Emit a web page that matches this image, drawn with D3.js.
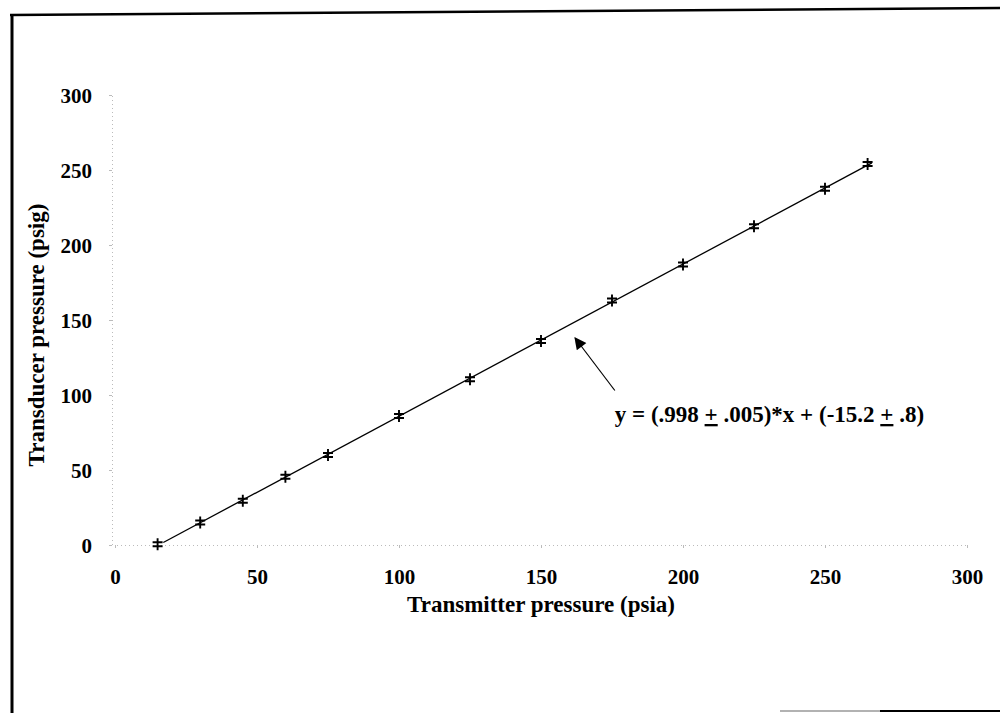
<!DOCTYPE html>
<html>
<head>
<meta charset="utf-8">
<script src="https://cdn.jsdelivr.net/npm/d3@7"></script>
<style>
  html, body { margin: 0; padding: 0; background: #fff; }
  svg { display: block; }
  text { font-family: "Liberation Serif", "Times New Roman", serif; font-weight: bold; fill: #000; }
</style>
</head>
<body>
<svg id="chart" width="1000" height="713"></svg>
<script>
// ---- data ----
const transmitter = [15, 30, 45, 60, 75, 100, 125, 150, 175, 200, 225, 250, 265];
const transducer  = [0.5, 15, 29.5, 45.5, 60, 86, 110.5, 136, 163, 187, 212.5, 237.5, 254];
const xTicks = [0, 50, 100, 150, 200, 250, 300];
const yTicks = [0, 50, 100, 150, 200, 250, 300];
const xTitle = "Transmitter pressure (psia)";
const yTitle = "Transducer pressure (psig)";
const fitRange = [17, 266.5];
const annotationParts = ["y = (.998 ", "+", " .005)*x + (-15.2 ", "+", " .8)"];
const arrowFrom = [176, 103];
const arrowTo = [162, 138];
const annotationAt = [176, 82];

const svg = d3.select("#chart");
const x = d3.scaleLinear().domain([0, 300]).range([115, 967]);
const y = d3.scaleLinear().domain([0, 300]).range([545, 95]);

// page border (scanned frame)
svg.append("line").attr("x1", 10).attr("y1", 15).attr("x2", 1000).attr("y2", 8)
  .attr("stroke", "#000").attr("stroke-width", 2.5);
svg.append("line").attr("x1", 12).attr("y1", 14).attr("x2", 12).attr("y2", 713)
  .attr("stroke", "#000").attr("stroke-width", 3);
svg.append("line").attr("x1", 780).attr("y1", 711).attr("x2", 880).attr("y2", 711)
  .attr("stroke", "#999").attr("stroke-width", 1.5);
svg.append("line").attr("x1", 880).attr("y1", 711).attr("x2", 1000).attr("y2", 711)
  .attr("stroke", "#000").attr("stroke-width", 2);

// axes
const xAxis = svg.append("g").attr("transform", `translate(0,${y(0)})`)
  .call(d3.axisBottom(x).tickValues(xTicks).tickSize(3).tickPadding(22).tickFormat(d3.format("d")));
const yAxis = svg.append("g").attr("transform", `translate(${x(0) - 3},0)`)
  .call(d3.axisLeft(y).tickValues(yTicks).tickSize(3).tickPadding(17).tickFormat(d3.format("d")));
[xAxis, yAxis].forEach(g => {
  g.select(".domain").attr("stroke", "#bbb").attr("stroke-dasharray", "1,3").attr("stroke-width", 1);
  g.selectAll(".tick line").attr("stroke", "#bbb");
  g.selectAll(".tick text").style("font-family", '"Liberation Serif", serif')
    .style("font-weight", "bold").style("font-size", "21px").attr("fill", "#000");
});
xAxis.selectAll(".tick text").attr("dy", "0.71em").attr("y", 24);
yAxis.selectAll(".tick text").attr("dy", "0.34em");

// axis titles
svg.append("text").attr("x", x(150)).attr("y", 612).attr("text-anchor", "middle")
  .style("font-size", "23px").text(xTitle);
svg.append("text").attr("transform", `translate(44,${(y(0) + y(300)) / 2 + 15}) rotate(-90)`)
  .attr("text-anchor", "middle").style("font-size", "23px").text(yTitle);

// fit line (least squares over the read points)
const n = transmitter.length;
const mx = d3.mean(transmitter), my = d3.mean(transducer);
let sxy = 0, sxx = 0;
for (let i = 0; i < n; i++) {
  sxy += (transmitter[i] - mx) * (transducer[i] - my);
  sxx += (transmitter[i] - mx) ** 2;
}
const slope = sxy / sxx, intercept = my - slope * mx;
svg.append("path")
  .datum(fitRange.map(v => [v, slope * v + intercept]))
  .attr("d", d3.line().x(d => x(d[0])).y(d => y(d[1])))
  .attr("fill", "none").attr("stroke", "#000").attr("stroke-width", 1.3);

// markers
svg.append("g").selectAll("path").data(transmitter.map((v, i) => [v, transducer[i]]))
  .join("path")
  .attr("transform", d => `translate(${x(d[0])},${y(d[1])})`)
  .attr("d", "M0,-6V6M-5,-2H5M-5,2H5")
  .attr("fill", "none").attr("stroke", "#000").attr("stroke-width", 1.9);

// annotation arrow
const defs = svg.append("defs");
defs.append("marker").attr("id", "ah").attr("viewBox", "0 0 10 10")
  .attr("refX", 9).attr("refY", 5).attr("markerWidth", 14).attr("markerHeight", 12)
  .attr("markerUnits", "userSpaceOnUse").attr("orient", "auto")
  .append("path").attr("d", "M0,0L10,5L0,10Z").attr("fill", "#000");
svg.append("line")
  .attr("x1", x(arrowFrom[0])).attr("y1", y(arrowFrom[1]))
  .attr("x2", x(arrowTo[0])).attr("y2", y(arrowTo[1]))
  .attr("stroke", "#000").attr("stroke-width", 1.2).attr("marker-end", "url(#ah)");

const t = svg.append("text").attr("x", x(annotationAt[0])).attr("y", y(annotationAt[1]))
  .style("font-size", "23px");
annotationParts.forEach((p, i) => {
  const ts = t.append("tspan").text(p);
  if (p === "+") ts.style("text-decoration", "underline");
});
</script>
</body>
</html>
